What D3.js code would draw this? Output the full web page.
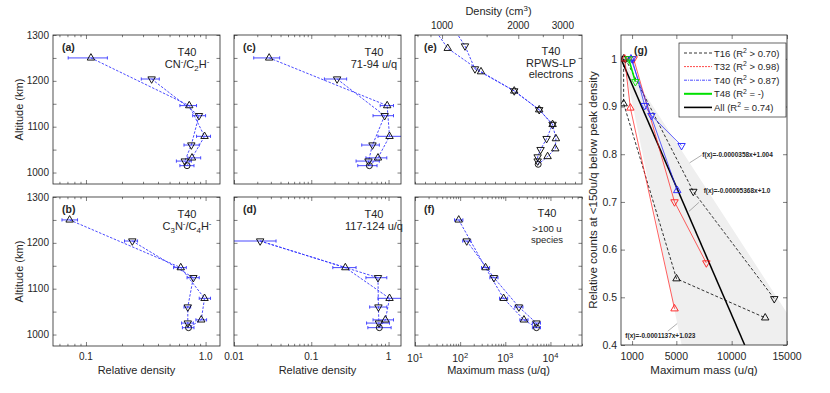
<!DOCTYPE html>
<html>
<head>
<meta charset="utf-8">
<script src="https://cdn.jsdelivr.net/npm/d3@7"></script>
<style>
	body { margin: 0; background: #fff; }
	svg text { font-family: "Liberation Sans", Arial, sans-serif; fill: #262626; }
</style>
</head>
<body>
<svg id="fig" width="830" height="393"></svg>
<script>
	// T40 flyby altitudes (km): inbound = up triangles, outbound = down triangles
	var in_alt = [1250, 1146, 1079, 1032];
	var out_alt = [1204, 1124, 1060, 1025];
	var ca_alt = 1015; // closest approach, circle

	// relative density, each point is [value, low, high]
	var a_in = [[0.110, 0.071, 0.151], [0.73, 0.61, 0.84], [0.98, 0.84, 1.10], [0.77, 0.71, 0.91]];
	var a_out = [[0.354, 0.29, 0.41], [0.88, 0.78, 1.00], [0.76, 0.66, 0.885], [0.67, 0.57, 0.76]];
	var a_ca = [0.70, 0.61, 0.80];

	var b_in = [[0.073, 0.063, 0.085], [0.62, 0.54, 0.69], [0.98, 0.885, 1.10], [0.92, 0.83, 1.02]];
	var b_out = [[0.244, 0.21, 0.27], [0.79, 0.70, 0.885], [0.71, 0.66, 0.75], [0.71, 0.63, 0.79]];
	var b_ca = [0.72, 0.64, 0.80];

	var c_in = [[0.0285, 0.018, 0.039], [0.96, 0.78, 1.16], [1.03, 0.73, 1.6], [0.73, 0.51, 0.95]];
	var c_out = [[0.216, 0.148, 0.287], [0.89, 0.63, 1.16], [0.62, 0.45, 0.76], [0.55, 0.38, 0.76]];
	var c_ca = [0.565, 0.40, 0.71];

	// no inbound point at 1250 km for 117-124 u/q
	var d_in = [null, [0.276, 0.19, 0.38], [1.03, 0.73, 1.6], [0.91, 0.63, 1.16]];
	var d_out = [[0.0218, 0.005, 0.035], [0.73, 0.51, 0.95], [0.74, 0.57, 0.95], [0.75, 0.52, 1.03]];
	var d_ca = [0.76, 0.54, 1.08];

	// maximum mass (u/q)
	var f_in = [[93, 75, 115], [365, 297, 449], [916, 745, 1127], [2590, 2106, 3186]];
	var f_out = [[140, 114, 172], [560, 455, 689], [2000, 1626, 2460], [4890, 3976, 6015]];
	var f_ca = [4900, 3984, 6027];

	// RPWS-LP electron density (cm-3) profile
	var e_in_alt = [1320, 1271, 1220, 1178, 1137, 1105, 1074, 1052, 1035];
	var e_in = [913, 1053, 1425, 1928, 2419, 2732, 2816, 2800, 2611];
	var e_out_alt = [1320, 1276, 1226, 1178, 1137, 1105, 1074, 1050, 1034, 1025];
	var e_out = [1095, 1232, 1349, 1928, 2419, 2732, 2587, 2449, 2385, 2385];
	var e_ca = [1018, 2397];

	// (g) relative counts vs maximum mass, per flyby (a = up triangles, b = down)
	var t16a_x = [240, 240, 5018, 13030], t16a_y = [1.0, 0.906, 0.539, 0.457];
	var t16b_x = [400, 6534, 13850], t16b_y = [1.0, 0.722, 0.497];
	var t32a_x = [330, 846, 4837], t32a_y = [1.0, 0.897, 0.476];
	var t32b_x = [1145, 4837, 7713], t32b_y = [1.0, 0.700, 0.572];
	var t40a_x = [900, 5082], t40a_y = [1.0, 0.724];
	var t40b_x = [1000, 2142, 2750, 5472], t40b_y = [1.0, 0.902, 0.881, 0.818];
	var t48_x = [690, 1300], t48_y = [1.0, 0.952];

	// linear fits [slope, intercept]
	var fit_all = [-0.00005368, 1.0];
	var fit_upper = [-0.0000358, 1.004];
	var fit_lower = [-0.0001137, 1.023];

	var legend_labels = [['T16 (R', '2', ' > 0.70)'], ['T32 (R', '2', ' > 0.98)'], ['T40 (R', '2', ' > 0.87)'], ['T48 (R', '2', ' = -)'], ['All (R', '2', ' = 0.74)']];

	var axis_color = '#262626';
	var blue = '#3535ff';
	var svg = d3.select('#fig');
	var defs = svg.append('defs');

	var col_x = [53, 234, 415], col_w = 167;
	var row_y = [35, 197], row_h = 149;

	function make_panel(name, left, top, w, h, x, y) {
		var g = svg.append('g').attr('transform', 'translate(' + left + ',' + top + ')');
		x.range([0, w]);
		y.range([h, 0]);
		defs.append('clipPath').attr('id', 'clip_' + name)
			.append('rect').attr('width', w).attr('height', h);
		var plot = g.append('g').attr('clip-path', 'url(#clip_' + name + ')');
		return { g: g, plot: plot, x: x, y: y, w: w, h: h };
	}

	function ticks(P, side, scale, values, size) {
		var maker = { bottom: d3.axisBottom, top: d3.axisTop, left: d3.axisLeft, right: d3.axisRight }[side];
		var ax = maker(scale).tickValues(values).tickSizeInner(-size).tickSizeOuter(0).tickFormat('');
		var t = side === 'bottom' ? [0, P.h] : side === 'right' ? [P.w, 0] : [0, 0];
		var a = P.g.append('g').attr('transform', 'translate(' + t + ')').call(ax);
		a.select('.domain').remove();
		a.selectAll('line').attr('stroke', axis_color).attr('stroke-width', 0.6);
	}

	function box(P) {
		P.g.append('rect').attr('width', P.w).attr('height', P.h)
			.attr('fill', 'none').attr('stroke', axis_color).attr('stroke-width', 0.8);
	}

	function log_ticks(dom) {
		var major = [], minor = [];
		for (var p = Math.floor(Math.log10(dom[0])); p <= Math.ceil(Math.log10(dom[1])); p++) {
			for (var m = 1; m < 10; m++) {
				var v = m * Math.pow(10, p);
				if (v < dom[0] * 0.999 || v > dom[1] * 1.001) continue;
				(m === 1 ? major : minor).push(v);
			}
		}
		return { major: major, minor: minor };
	}

	function rich(t, parts, size) {
		var cur = 0;
		parts.forEach(function (p) {
			var off = p[1] === 'sup' ? -0.38 * size : p[1] === 'sub' ? 0.3 * size : 0;
			t.append('tspan').attr('dy', off - cur)
				.attr('font-size', p[1] ? size * 0.72 : size).text(p[0]);
			cur = off;
		});
		return t;
	}

	function tri(up, size) {
		return d3.symbol(d3.symbolTriangle, size || 24)() ;
	}

	function marker(plot, x, y, kind, color) {
		if (kind === 'circle') {
			plot.append('circle').attr('cx', x).attr('cy', y).attr('r', 3)
				.attr('fill', 'none').attr('stroke', color).attr('stroke-width', 0.9);
			return;
		}
		plot.append('path').attr('d', tri())
			.attr('transform', 'translate(' + x + ',' + y + ')' + (kind === 'down' ? ' rotate(180)' : ''))
			.attr('fill', 'none').attr('stroke', color).attr('stroke-width', 0.9);
	}

	function err_bar(plot, P, alt, v) {
		var yy = P.y(alt), x0 = P.x(v[1]), x1 = P.x(v[2]);
		plot.append('line').attr('x1', x0).attr('x2', x1).attr('y1', yy).attr('y2', yy)
			.attr('stroke', blue).attr('stroke-width', 0.9);
		[x0, x1].forEach(function (xx) {
			plot.append('line').attr('x1', xx).attr('x2', xx).attr('y1', yy - 1.6).attr('y2', yy + 1.6)
				.attr('stroke', blue).attr('stroke-width', 0.9);
		});
	}

	function dashed(plot, pts) {
		plot.append('path').attr('d', d3.line()(pts)).attr('fill', 'none')
			.attr('stroke', blue).attr('stroke-width', 0.9).attr('stroke-dasharray', '2.5,1.5');
	}

	// profile panel: inbound / outbound lines meeting at closest approach
	function profile(P, vin, vout, vca) {
		var pin = [], pout = [];
		vin.forEach(function (v, i) { if (v) pin.push([P.x(v[0]), P.y(in_alt[i])]); });
		vout.forEach(function (v, i) { pout.push([P.x(v[0]), P.y(out_alt[i])]); });
		var pca = [P.x(vca[0]), P.y(ca_alt)];
		// inbound line starts at the outbound top point when the 1250 km point is missing
		if (!vin[0]) pin.unshift(pout[0]);
		dashed(P.plot, pin.concat([pca]));
		dashed(P.plot, pout.concat([pca]));
		vin.forEach(function (v, i) { if (v) err_bar(P.plot, P, in_alt[i], v); });
		vout.forEach(function (v, i) { err_bar(P.plot, P, out_alt[i], v); });
		err_bar(P.plot, P, ca_alt, vca);
		vin.forEach(function (v, i) { if (v) marker(P.plot, P.x(v[0]), P.y(in_alt[i]), 'up', '#000'); });
		vout.forEach(function (v, i) { marker(P.plot, P.x(v[0]), P.y(out_alt[i]), 'down', '#000'); });
		marker(P.plot, pca[0], pca[1], 'circle', '#000');
	}

	function alt_axes(P, labels) {
		var vals = d3.range(1000, 1301, 50);
		ticks(P, 'left', P.y, vals, 3.5);
		ticks(P, 'right', P.y, vals, 3.5);
		if (labels) {
			[1000, 1100, 1200, 1300].forEach(function (v) {
				P.g.append('text').attr('x', -4).attr('y', P.y(v)).attr('dy', '0.35em')
					.attr('text-anchor', 'end').attr('font-size', 10).text(v);
			});
			P.g.append('text').attr('transform', 'translate(-30,' + P.h / 2 + ') rotate(-90)')
				.attr('text-anchor', 'middle').attr('font-size', 11).text('Altitude (km)');
		}
	}

	function log_x_axes(P, lt) {
		ticks(P, 'bottom', P.x, lt.major, 4);
		ticks(P, 'bottom', P.x, lt.minor, 2.2);
		ticks(P, 'top', P.x, lt.major, 4);
		ticks(P, 'top', P.x, lt.minor, 2.2);
	}

	function x_tick_labels(P, vals, fmt) {
		vals.forEach(function (v) {
			P.g.append('text').attr('x', P.x(v)).attr('y', P.h + 14)
				.attr('text-anchor', 'middle').attr('font-size', 10).text(fmt(v));
		});
	}

	function corner(P, letter, lines, cx, small) {
		P.g.append('text').attr('x', 9).attr('y', 16).attr('font-size', 10.5)
			.attr('font-weight', 'bold').attr('fill', '#000').text(letter);
		lines.forEach(function (parts, i) {
			var t = P.g.append('text').attr('x', cx).attr('y', 21 + i * 12).attr('text-anchor', 'middle');
			rich(t, parts, i > 0 && small ? 9.5 : 11);
		});
	}

	var rel_ab = [0.053, 1.32], rel_cd = [0.01, 1.45];

	// (a)
	var Pa = make_panel('a', col_x[0], row_y[0], col_w, row_h, d3.scaleLog().domain(rel_ab), d3.scaleLinear().domain([975, 1300]));
	profile(Pa, a_in, a_out, a_ca);
	box(Pa); alt_axes(Pa, true); log_x_axes(Pa, log_ticks(rel_ab));
	corner(Pa, '(a)', [[['T40']], [['CN'], ['-', 'sup'], ['/C'], ['2', 'sub'], ['H'], ['-', 'sup']]], 134);

	// (b)
	var Pb = make_panel('b', col_x[0], row_y[1], col_w, row_h, d3.scaleLog().domain(rel_ab), d3.scaleLinear().domain([975, 1300]));
	profile(Pb, b_in, b_out, b_ca);
	box(Pb); alt_axes(Pb, true); log_x_axes(Pb, log_ticks(rel_ab));
	x_tick_labels(Pb, [0.1, 1], function (v) { return v === 1 ? '1.0' : '0.1'; });
	Pb.g.append('text').attr('x', Pb.w / 2).attr('y', Pb.h + 28).attr('text-anchor', 'middle')
		.attr('font-size', 11).text('Relative density');
	corner(Pb, '(b)', [[['T40']], [['C'], ['3', 'sub'], ['N'], ['-', 'sup'], ['/C'], ['4', 'sub'], ['H'], ['-', 'sup']]], 134);

	// (c)
	var Pc = make_panel('c', col_x[1], row_y[0], col_w, row_h, d3.scaleLog().domain(rel_cd), d3.scaleLinear().domain([975, 1300]));
	profile(Pc, c_in, c_out, c_ca);
	box(Pc); alt_axes(Pc, false); log_x_axes(Pc, log_ticks(rel_cd));
	corner(Pc, '(c)', [[['T40']], [['71-94 u/q']]], 140);

	// (d)
	var Pd = make_panel('d', col_x[1], row_y[1], col_w, row_h, d3.scaleLog().domain(rel_cd), d3.scaleLinear().domain([975, 1300]));
	profile(Pd, d_in, d_out, d_ca);
	box(Pd); alt_axes(Pd, false); log_x_axes(Pd, log_ticks(rel_cd));
	x_tick_labels(Pd, [0.01, 0.1, 1], function (v) { return String(v); });
	Pd.g.append('text').attr('x', Pd.w / 2).attr('y', Pd.h + 28).attr('text-anchor', 'middle')
		.attr('font-size', 11).text('Relative density');
	corner(Pd, '(d)', [[['T40']], [['117-124 u/q']]], 140);

	// (e) electron density, density axis on top
	var dens_dom = [782, 3570];
	var Pe = make_panel('e', col_x[2], row_y[0], col_w, row_h, d3.scaleLog().domain(dens_dom), d3.scaleLinear().domain([975, 1300]));
	var e_in_pts = e_in.map(function (v, i) { return [Pe.x(v), Pe.y(e_in_alt[i])]; });
	var e_out_pts = e_out.map(function (v, i) { return [Pe.x(v), Pe.y(e_out_alt[i])]; });
	var e_ca_pt = [Pe.x(e_ca[1]), Pe.y(e_ca[0])];
	dashed(Pe.plot, e_in_pts.concat([e_ca_pt]));
	dashed(Pe.plot, e_out_pts.concat([e_ca_pt]));
	e_in_pts.forEach(function (p) { marker(Pe.plot, p[0], p[1], 'up', '#000'); });
	e_out_pts.forEach(function (p) { marker(Pe.plot, p[0], p[1], 'down', '#000'); });
	marker(Pe.plot, e_ca_pt[0], e_ca_pt[1], 'circle', '#000');
	box(Pe); alt_axes(Pe, false);
	var dens_major = [1000, 2000, 3000], dens_minor = [800, 900, 1500, 2500];
	ticks(Pe, 'top', Pe.x, dens_major, 4);
	ticks(Pe, 'top', Pe.x, dens_minor, 2.2);
	var e_bottom = d3.scaleLinear().domain([0, 16.7]).range([0, Pe.w]);
	ticks(Pe, 'bottom', e_bottom, d3.range(0, 17, 1), 2.2);
	dens_major.forEach(function (v) {
		Pe.g.append('text').attr('x', Pe.x(v)).attr('y', -6).attr('text-anchor', 'middle')
			.attr('font-size', 10).text(v);
	});
	rich(Pe.g.append('text').attr('x', Pe.w / 2).attr('y', -20).attr('text-anchor', 'middle'),
		[['Density (cm'], ['3', 'sup'], [')']], 11);
	Pe.g.append('text').attr('x', 9).attr('y', 16).attr('font-size', 10.5)
		.attr('font-weight', 'bold').attr('fill', '#000').text('(e)');
	['T40', 'RPWS-LP', 'electrons'].forEach(function (s, i) {
		Pe.g.append('text').attr('x', 136).attr('y', 20 + i * 11.5).attr('text-anchor', 'middle')
			.attr('font-size', 11).text(s);
	});

	// (f) maximum mass
	var mass_dom = [10, 50000];
	var Pf = make_panel('f', col_x[2], row_y[1], col_w, row_h, d3.scaleLog().domain(mass_dom), d3.scaleLinear().domain([975, 1300]));
	profile(Pf, f_in, f_out, f_ca);
	box(Pf); alt_axes(Pf, false); log_x_axes(Pf, log_ticks(mass_dom));
	[10, 100, 1000, 10000].forEach(function (v) {
		var t = Pf.g.append('text').attr('x', Pf.x(v)).attr('y', Pf.h + 16).attr('text-anchor', 'middle');
		rich(t, [['10'], [String(Math.round(Math.log10(v))), 'sup']], 10.5);
	});
	Pf.g.append('text').attr('x', Pf.w / 2).attr('y', Pf.h + 28).attr('text-anchor', 'middle')
		.attr('font-size', 11).text('Maximum mass (u/q)');
	Pf.g.append('text').attr('x', 9).attr('y', 16).attr('font-size', 10.5)
		.attr('font-weight', 'bold').attr('fill', '#000').text('(f)');
	Pf.g.append('text').attr('x', 132).attr('y', 20).attr('text-anchor', 'middle').attr('font-size', 11).text('T40');
	['>100 u', 'species'].forEach(function (s, i) {
		Pf.g.append('text').attr('x', 132).attr('y', 34.5 + i * 11.5).attr('text-anchor', 'middle')
			.attr('font-size', 9.5).text(s);
	});

	// (g)
	var Pg = make_panel('g', 621, 35, 166, 310, d3.scaleLinear().domain([0, 15000]), d3.scaleLinear().domain([0.4, 1.05]));
	var fx_ext = [-3000, 20000];
	var wedge = [
		[fx_ext[0], fit_upper[0] * fx_ext[0] + fit_upper[1]],
		[fx_ext[1], fit_upper[0] * fx_ext[1] + fit_upper[1]],
		[fx_ext[1], fit_lower[0] * fx_ext[1] + fit_lower[1]],
		[fx_ext[0], fit_lower[0] * fx_ext[0] + fit_lower[1]]
	];
	Pg.plot.append('path')
		.attr('d', d3.line().x(function (d) { return Pg.x(d[0]); }).y(function (d) { return Pg.y(d[1]); })(wedge) + 'Z')
		.attr('fill', '#efefef').attr('stroke', 'none');

	var g_series = [
		{ x: t16a_x, y: t16a_y, color: '#000', dash: '3,2', w: 0.8, m: 'up' },
		{ x: t16b_x, y: t16b_y, color: '#000', dash: '3,2', w: 0.8, m: 'down' },
		{ x: t32a_x, y: t32a_y, color: '#ff1a1a', dash: null, w: 0.7, m: 'up' },
		{ x: t32b_x, y: t32b_y, color: '#ff1a1a', dash: null, w: 0.7, m: 'down' },
		{ x: t40a_x, y: t40a_y, color: '#1f1fff', dash: null, w: 0.7, m: 'up' },
		{ x: t40b_x, y: t40b_y, color: '#1f1fff', dash: null, w: 0.7, m: 'down' },
		{ x: t48_x, y: t48_y, color: '#00e000', dash: null, w: 1.6, m: 'down' }
	];
	var fit_end = (0.4 - fit_all[1]) / fit_all[0];
	Pg.plot.append('line').attr('x1', Pg.x(0)).attr('y1', Pg.y(fit_all[1]))
		.attr('x2', Pg.x(fit_end)).attr('y2', Pg.y(0.4)).attr('stroke', '#000').attr('stroke-width', 1.5);
	g_series.forEach(function (s) {
		var pts = s.x.map(function (v, i) { return [Pg.x(v), Pg.y(s.y[i])]; });
		Pg.plot.append('path').attr('d', d3.line()(pts)).attr('fill', 'none')
			.attr('stroke', s.color).attr('stroke-width', s.w).attr('stroke-dasharray', s.dash);
		pts.forEach(function (p) { marker(Pg.plot, p[0], p[1], s.m, s.color); });
	});

	// fit annotations: [text, text x, text y, leader from x, from y, leader to x, to y] in data units
	var fit_notes = [
		['f(x)=-0.0000358x+1.004', 7349, 0.795, 6200, 0.782, 7286, 0.798],
		['f(x)=-0.00005368x+1.0', 7467, 0.7195, 6133, 0.68, 7040, 0.699],
		['f(x)=-0.0001137x+1.023', 390, 0.415, 5081, 0.445, 4228, 0.429]
	];
	fit_notes.forEach(function (n) {
		Pg.g.append('line').attr('x1', Pg.x(n[3])).attr('y1', Pg.y(n[4]))
			.attr('x2', Pg.x(n[5])).attr('y2', Pg.y(n[6])).attr('stroke', '#777').attr('stroke-width', 0.6);
		Pg.g.append('text').attr('x', Pg.x(n[1])).attr('y', Pg.y(n[2])).attr('font-size', 6.5)
			.attr('font-weight', 'bold').attr('fill', '#000').text(n[0]);
	});

	box(Pg);
	var g_xt = [1000, 5000, 10000, 15000], g_yt = d3.range(0.4, 1.001, 0.1);
	ticks(Pg, 'bottom', Pg.x, g_xt, 4);
	ticks(Pg, 'top', Pg.x, g_xt, 4);
	ticks(Pg, 'left', Pg.y, g_yt, 4);
	ticks(Pg, 'right', Pg.y, g_yt, 4);
	g_xt.forEach(function (v) {
		Pg.g.append('text').attr('x', Pg.x(v)).attr('y', Pg.h + 15).attr('text-anchor', 'middle')
			.attr('font-size', 10.5).text(v);
	});
	g_yt.forEach(function (v) {
		Pg.g.append('text').attr('x', -4).attr('y', Pg.y(v)).attr('dy', '0.35em').attr('text-anchor', 'end')
			.attr('font-size', 10.5).text(Math.abs(v - 1) < 1e-9 ? '1' : d3.format('.1f')(v));
	});
	Pg.g.append('text').attr('x', Pg.w / 2).attr('y', Pg.h + 29).attr('text-anchor', 'middle')
		.attr('font-size', 11.5).text('Maximum mass (u/q)');
	Pg.g.append('text').attr('transform', 'translate(-24,' + Pg.h / 2 + ') rotate(-90)')
		.attr('text-anchor', 'middle').attr('font-size', 11.5)
		.text('Relative counts at <150u/q below peak density');
	Pg.g.append('text').attr('x', 13).attr('y', 19).attr('font-size', 10.5)
		.attr('font-weight', 'bold').attr('fill', '#000').text('(g)');

	// legend
	var leg = Pg.g.append('g').attr('transform', 'translate(58,8)');
	leg.append('rect').attr('width', 107).attr('height', 74).attr('fill', '#fff')
		.attr('stroke', axis_color).attr('stroke-width', 0.7);
	var leg_style = [
		{ color: '#000', dash: '3,2', w: 0.8 },
		{ color: '#ff1a1a', dash: '2,1', w: 0.8 },
		{ color: '#1f1fff', dash: '3,1,1,1', w: 0.8 },
		{ color: '#00e000', dash: null, w: 2 },
		{ color: '#000', dash: null, w: 1.6 }
	];
	legend_labels.forEach(function (lab, i) {
		var yy = 10 + i * 13.6;
		leg.append('line').attr('x1', 5).attr('x2', 33).attr('y1', yy).attr('y2', yy)
			.attr('stroke', leg_style[i].color).attr('stroke-width', leg_style[i].w)
			.attr('stroke-dasharray', leg_style[i].dash);
		var t = leg.append('text').attr('x', 35).attr('y', yy + 3.5);
		rich(t, [[lab[0]], [lab[1], 'sup'], [lab[2]]], 9.5);
	});
</script>
</body>
</html>
